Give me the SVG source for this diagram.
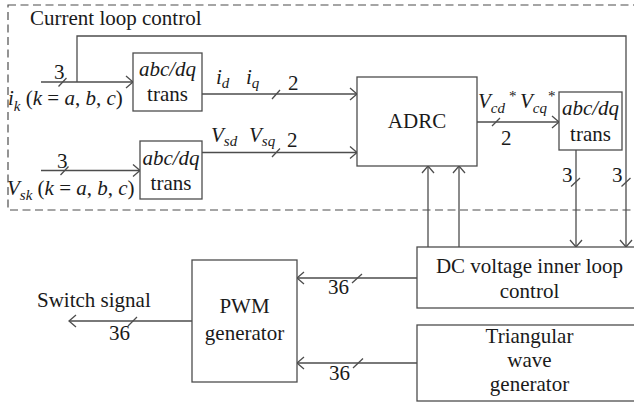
<svg xmlns="http://www.w3.org/2000/svg" width="634" height="404" viewBox="0 0 634 404">
<defs>
<marker id="ah" viewBox="-8 -7 10 14" refX="0" refY="0" markerWidth="10" markerHeight="14" markerUnits="userSpaceOnUse" orient="auto">
<path d="M-7,-6 L0,0 L-7,6" fill="none" stroke="#4d4d4d" stroke-width="1.3"/>
</marker>
<style>
.ln{stroke:#4d4d4d;stroke-width:1.3;fill:none}
.bx{stroke:#4d4d4d;stroke-width:1.3;fill:#fff}
.ds{stroke:#4d4d4d;stroke-width:1.2;fill:none;stroke-dasharray:8,4.5}
text{font-family:'Liberation Serif','Times New Roman',serif;font-size:21px;fill:#1a1a1a}
.c{text-anchor:middle}
.i{font-style:italic}
.s{font-size:15px}
</style>
</defs>
<rect x="8" y="5" width="640" height="205" class="ds"/>
<text x="30" y="25">Current loop control</text>
<g id="connectors">
<path d="M41,82 H133" class="ln" marker-end="url(#ah)"/>
<path d="M77,82 V36 H626 V247" class="ln" marker-end="url(#ah)"/>
<path d="M41,170.5 H140" class="ln" marker-end="url(#ah)"/>
<path d="M202,94 H357" class="ln" marker-end="url(#ah)"/>
<path d="M202,152.5 H357" class="ln" marker-end="url(#ah)"/>
<path d="M477,122 H559" class="ln" marker-end="url(#ah)"/>
<path d="M576,150 V247" class="ln" marker-end="url(#ah)"/>
<path d="M428,247 V166" class="ln" marker-end="url(#ah)"/>
<path d="M459,247 V166" class="ln" marker-end="url(#ah)"/>
<path d="M417,278 H297" class="ln" marker-end="url(#ah)"/>
<path d="M417,363 H297" class="ln" marker-end="url(#ah)"/>
<path d="M192,321 H69" class="ln" marker-end="url(#ah)"/>
<path d="M58.5,86.5 L66.5,78 M60.5,175 L68.5,166.5 M272,99 L280,90 M272,157 L280,148.5 M492,126 L500,118 M571,186.5 L580,178 M621.5,186.5 L630.5,178 M352,283 L362,274 M353,368 L363,358.5 M128,326 L137,317" class="ln"/>
</g>
<text x="54" y="79">3</text>
<text x="57" y="168">3</text>
<text x="8" y="105"><tspan class="i">i</tspan><tspan class="i s" dy="6">k</tspan><tspan dy="-6"> (</tspan><tspan class="i">k</tspan> = <tspan class="i">a</tspan>, <tspan class="i">b</tspan>, <tspan class="i">c</tspan>)</text>
<text x="7" y="195"><tspan class="i">V</tspan><tspan class="i s" dy="5">sk</tspan><tspan dy="-5"> (</tspan><tspan class="i">k</tspan> = <tspan class="i">a</tspan>, <tspan class="i">b</tspan>, <tspan class="i">c</tspan>)</text>
<text x="216" y="84"><tspan class="i">i</tspan><tspan class="i s" dy="4">d</tspan></text>
<text x="246" y="84"><tspan class="i">i</tspan><tspan class="i s" dy="4">q</tspan></text>
<text x="288" y="90">2</text>
<text x="211" y="142"><tspan class="i">V</tspan><tspan class="i s" dy="4">sd</tspan></text>
<text x="249" y="142"><tspan class="i">V</tspan><tspan class="i s" dy="4">sq</tspan></text>
<text x="287" y="147">2</text>
<text x="478" y="108"><tspan class="i">V</tspan><tspan class="i s" dy="5">cd</tspan></text>
<text x="509" y="101" class="s">*</text>
<text x="520" y="108"><tspan class="i">V</tspan><tspan class="i s" dy="5">cq</tspan></text>
<text x="548" y="101" class="s">*</text>
<text x="501" y="145">2</text>
<text x="562" y="182">3</text>
<text x="612" y="182">3</text>
<text x="328" y="294">36</text>
<text x="329" y="380">36</text>
<text x="109" y="340">36</text>
<text x="37" y="307">Switch signal</text>
<g id="trans1">
<rect x="133" y="53" width="69" height="58" class="bx"/>
<text x="167.5" y="76" class="c i">abc/dq</text>
<text x="167.5" y="101" class="c">trans</text>
</g>
<g id="trans2">
<rect x="140" y="141" width="62" height="58" class="bx"/>
<text x="171" y="165" class="c i">abc/dq</text>
<text x="171" y="190" class="c">trans</text>
</g>
<g id="adrc">
<rect x="357" y="77" width="120" height="89" class="bx"/>
<text x="417" y="128" class="c">ADRC</text>
</g>
<g id="trans3">
<rect x="559" y="92" width="63" height="58" class="bx"/>
<text x="590.5" y="115" class="c i">abc/dq</text>
<text x="590.5" y="141" class="c">trans</text>
</g>
<g id="dc">
<rect x="417" y="247" width="230" height="61" class="bx"/>
<text x="529.5" y="273" class="c">DC voltage inner loop</text>
<text x="529.5" y="298" class="c">control</text>
</g>
<g id="tri">
<rect x="417" y="325" width="230" height="76" class="bx"/>
<text x="529.5" y="343" class="c">Triangular</text>
<text x="529.5" y="367" class="c">wave</text>
<text x="529.5" y="391" class="c">generator</text>
</g>
<g id="pwm">
<rect x="192" y="260" width="105" height="122" class="bx"/>
<text x="244.5" y="313" class="c">PWM</text>
<text x="244.5" y="340" class="c">generator</text>
</g>
</svg>
